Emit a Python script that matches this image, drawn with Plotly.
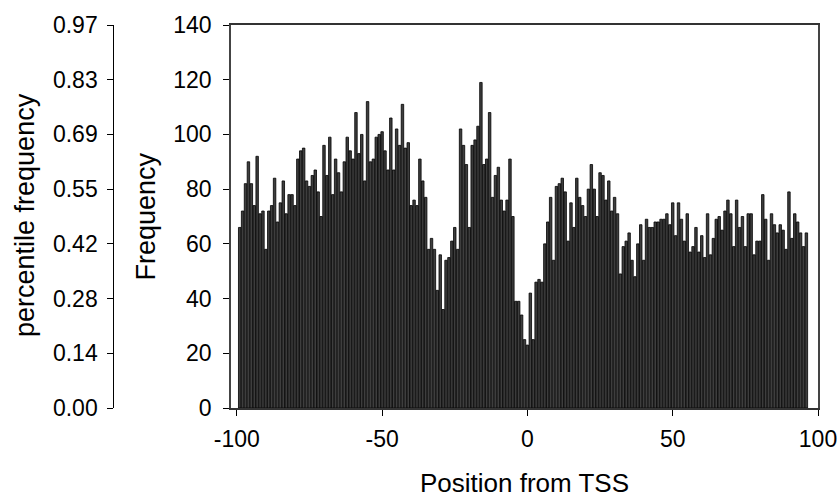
import plotly.graph_objects as go

positions = list(range(-99, 97))
frequency = [
    66, 72, 82, 90, 82, 74, 92, 71, 72, 58,
    72, 74, 84, 68, 75, 83, 71, 78, 78, 74,
    91, 94, 95, 83, 81, 85, 87, 79, 70, 96,
    85, 99, 78, 91, 86, 79, 90, 99, 94, 91,
    108, 93, 100, 83, 112, 90, 91, 99, 100, 101,
    94, 87, 106, 87, 102, 96, 111, 95, 97, 74,
    76, 74, 91, 83, 77, 58, 62, 58, 43, 56,
    36, 54, 55, 61, 66, 58, 102, 96, 89, 66,
    96, 98, 103, 119, 89, 91, 108, 77, 85, 88,
    76, 72, 76, 91, 70, 39, 39, 34, 25, 23,
    42, 25, 46, 47, 46, 60, 68, 77, 54, 81,
    82, 84, 79, 61, 75, 66, 84, 77, 74, 70,
    80, 89, 80, 70, 86, 85, 76, 83, 72, 77,
    71, 49, 59, 61, 64, 54, 48, 60, 67, 54,
    69, 66, 66, 68, 68, 69, 69, 71, 67, 75,
    63, 75, 69, 61, 71, 57, 59, 66, 57, 63,
    55, 71, 56, 62, 69, 70, 65, 72, 76, 71,
    59, 76, 66, 70, 59, 71, 71, 56, 61, 61,
    78, 69, 54, 71, 67, 64, 67, 65, 58, 79,
    62, 71, 68, 64, 59, 64,
]
freq_ticks = [0, 20, 40, 60, 80, 100, 120, 140]
pct_tick_labels = ["0.00", "0.14", "0.28", "0.42", "0.55", "0.69", "0.83", "0.97"]
x_ticks = [-100, -50, 0, 50, 100]
x_tick_labels = ["-100", "-50", "0", "50", "100"]

W, H = 838, 497
L_PLOT, R_PLOT, T_PLOT, B_PLOT = 231, 818, 25, 408

fig = go.Figure()
fig.add_trace(go.Bar(
    x=positions, y=frequency,
    marker=dict(color="#3e3e3e", line=dict(color="black", width=0.8)),
    showlegend=False,
))
fig.add_trace(go.Scatter(x=[None], y=[None], yaxis="y2", showlegend=False))

FAM = "Liberation Sans, Arial, sans-serif"
ytitle_font = dict(family=FAM, size=27, color="black")
xtitle_font = dict(family=FAM, size=26, color="black")

fig.update_layout(
    width=W, height=H,
    margin=dict(l=0, r=W - R_PLOT, t=T_PLOT, b=H - B_PLOT),
    paper_bgcolor="white", plot_bgcolor="white",
    bargap=0.15,
    font=dict(family=FAM, size=23, color="black"),
    xaxis=dict(
        domain=[L_PLOT / R_PLOT, 1], range=[-102, 100],
        tickvals=x_ticks, ticktext=x_tick_labels,
        ticks="outside", ticklen=6, tickwidth=1, tickcolor="black",
        ticklabelstandoff=4,
        showline=True, linecolor="#333", linewidth=1.5, mirror=True,
        showgrid=False, zeroline=False, automargin=False,
    ),
    yaxis=dict(
        range=[0, 140], tickvals=freq_ticks, anchor="x",
        ticks="outside", ticklen=6, tickwidth=1, tickcolor="black",
        ticklabelstandoff=7,
        showline=True, linecolor="#444", linewidth=1.5, mirror=True,
        showgrid=False, zeroline=False, automargin=False,
    ),
    yaxis2=dict(
        overlaying="y", anchor="free", position=113.3 / R_PLOT, side="left",
        range=[0, 140], tickvals=freq_ticks, ticktext=pct_tick_labels,
        ticks="outside", ticklen=6, tickwidth=1, tickcolor="black",
        ticklabelstandoff=5,
        showline=True, linecolor="black", linewidth=1,
        showgrid=False, zeroline=False, automargin=False,
    ),
    annotations=[
        dict(text="Position from TSS", xref="paper", yref="paper",
             x=524.5 / R_PLOT, y=(B_PLOT - 483) / (B_PLOT - T_PLOT),
             xanchor="center", yanchor="middle", showarrow=False, font=xtitle_font),
        dict(text="Frequency", xref="paper", yref="paper",
             x=145 / R_PLOT, y=(B_PLOT - 216.5) / (B_PLOT - T_PLOT), textangle=-90,
             xanchor="center", yanchor="middle", showarrow=False, font=ytitle_font),
        dict(text="percentile frequency", xref="paper", yref="paper",
             x=25 / R_PLOT, y=(B_PLOT - 215) / (B_PLOT - T_PLOT), textangle=-90,
             xanchor="center", yanchor="middle", showarrow=False, font=ytitle_font),
    ],
)

fig.write_html("out.html")
